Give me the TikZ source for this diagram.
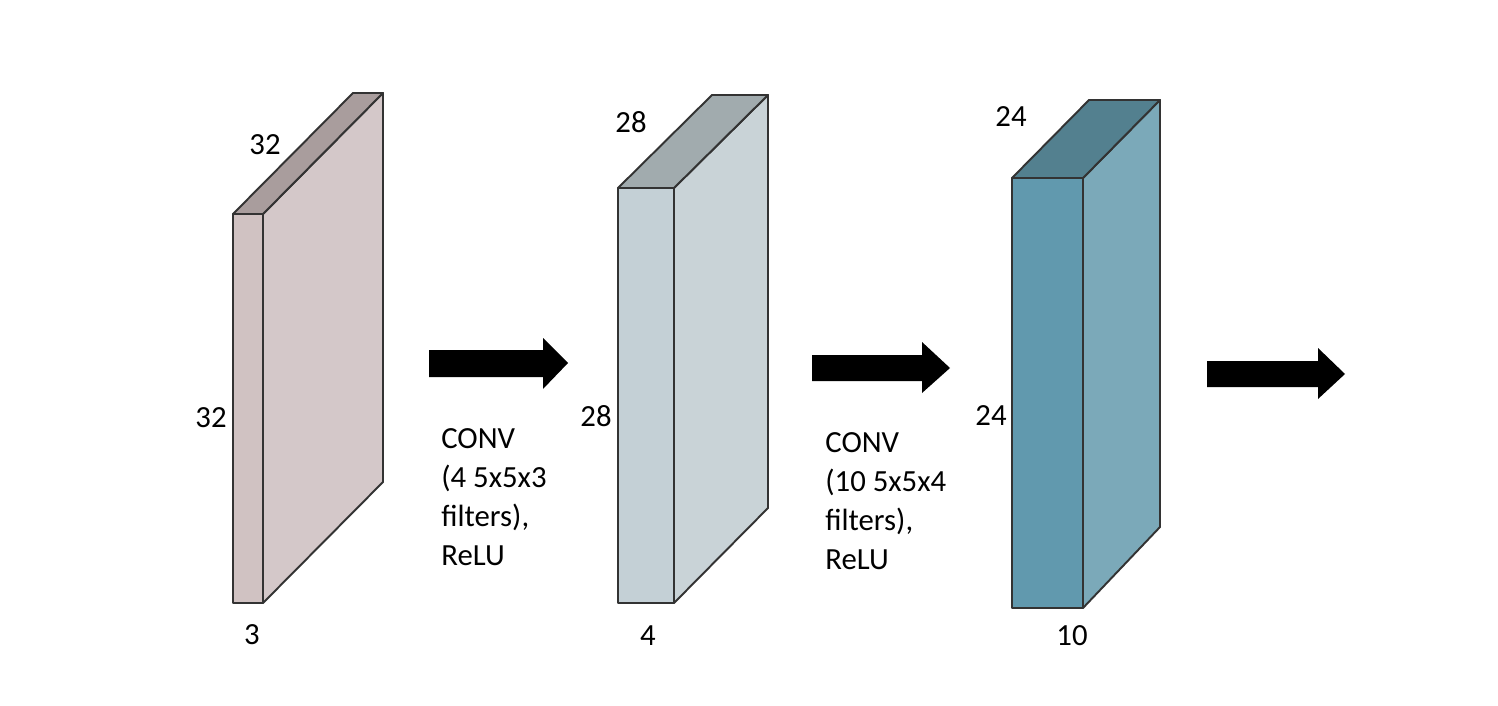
\documentclass[tikz,border=0pt]{standalone}
\usepackage{fontspec}
\setmainfont{Carlito}
\usepackage{xcolor}
\usetikzlibrary{positioning}

\definecolor{inFront}{HTML}{D0C2C2}
\definecolor{inSide}{HTML}{D4C8C9}
\definecolor{inTop}{HTML}{A99D9D}
\definecolor{cOneFront}{HTML}{C4D0D6}
\definecolor{cOneSide}{HTML}{C9D3D7}
\definecolor{cOneTop}{HTML}{A1ABAE}
\definecolor{cTwoFront}{HTML}{6199AE}
\definecolor{cTwoSide}{HTML}{7BA9B9}
\definecolor{cTwoTop}{HTML}{53808F}

\begin{document}
\begin{tikzpicture}[x=0.02cm, y=-0.02cm,
  face/.style={draw=black!80, line width=1.1pt, line join=round},
  dim/.style={font=\fontsize{17.5}{21}\selectfont, inner sep=0pt},
  op/.style={font=\fontsize{17.5}{22.2}\selectfont, align=left, inner sep=0pt, anchor=north west},
  blk/.style={fill=black}
]
\useasboundingbox (0,0) rectangle (1498,706);

% Input volume
\draw[face, fill=inSide] (263,214) -- (383,93) -- (383,482) -- (263,603) -- cycle;
\draw[face, fill=inTop] (233,214) -- (353,93) -- (383,93) -- (263,214) -- cycle;
\draw[face, fill=inFront] (233,214) rectangle (263,603);
\node[dim] (inD) at (265,145) {32};
\node[dim] (inH) at (211,418) {32};
\node[dim] (inW) at (252,635) {3};

% First conv arrow
\fill[blk] (429,350) -- (543,350) -- (543,338) -- (568,363) -- (543,389) -- (543,377) -- (429,377) -- cycle;
\node[op] (conv1) at (441,428) {CONV\\(4 5x5x3\\filters),\\ReLU};

% Conv1 output volume
\draw[face, fill=cOneSide] (674,188) -- (768,95) -- (768,508) -- (674,603) -- cycle;
\draw[face, fill=cOneTop] (618,188) -- (712,95) -- (768,95) -- (674,188) -- cycle;
\draw[face, fill=cOneFront] (618,188) rectangle (674,603);
\node[dim] (cOneD) at (631,122) {28};
\node[dim] (cOneH) at (596,416) {28};
\node[dim] (cOneW) at (648,636) {4};

% Second conv arrow
\fill[blk] (812,355) -- (922,355) -- (922,342) -- (950,368) -- (922,393) -- (922,381) -- (812,381) -- cycle;
\node[op] (conv2) at (825,432) {CONV\\(10 5x5x4\\filters),\\ReLU};

% Conv2 output volume
\draw[face, fill=cTwoSide] (1083,178) -- (1160,100) -- (1160,527) -- (1083,608) -- cycle;
\draw[face, fill=cTwoTop] (1012,178) -- (1089,100) -- (1160,100) -- (1083,178) -- cycle;
\draw[face, fill=cTwoFront] (1012,178) rectangle (1083,608);
\node[dim] (cTwoD) at (1011,117) {24};
\node[dim] (cTwoH) at (991,416) {24};
\node[dim] (cTwoW) at (1072,636) {10};

% Next stage arrow
\fill[blk] (1207,361) -- (1318,361) -- (1318,348) -- (1345,374) -- (1318,399) -- (1318,387) -- (1207,387) -- cycle;
\end{tikzpicture}
\end{document}
